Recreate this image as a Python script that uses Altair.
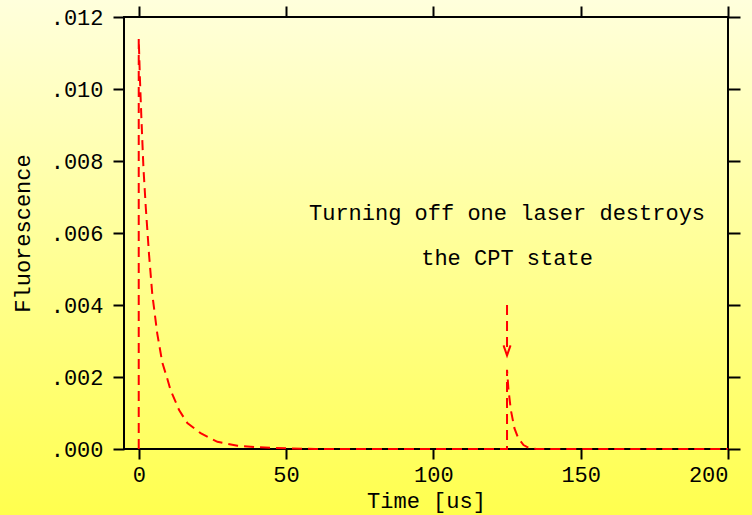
import altair as alt
import pandas as pd

# Fluorescence trace: pulse at t=0 with slow decay, second short pulse at t=125
t_vals = [0, 0, 0.4, 0.9, 1.6, 2.4, 3.5, 4.6, 6.3, 8.0, 9.7, 10.8, 13.7, 16.5,
          21.0, 26.7, 33.5, 40.0, 50.0, 60.0,
          125.0, 125.0, 125.5, 126.3, 127.5, 128.8, 130.6, 132.2, 135.0, 200.0]
f_vals = [0.0, 0.0114, 0.0103, 0.0092, 0.0078, 0.0067, 0.0054, 0.0043, 0.0032,
          0.0024, 0.00195, 0.00164, 0.00108, 0.00072, 0.00044, 0.0002, 0.00009,
          0.00005, 0.00002, 0.0,
          0.0, 0.0022, 0.00164, 0.00108, 0.00058, 0.0003, 0.00011, 0.00004, 0.0, 0.0]

x_ticks = [0, 50, 100, 150, 200]
y_ticks = [0.0, 0.002, 0.004, 0.006, 0.008, 0.010, 0.012]

note_lines = ["Turning off one laser destroys", "the CPT state"]
note_x = [125, 125]
note_y = [0.00636, 0.00511]

arrow_x = 125
arrow_top = 0.0040
arrow_tip = 0.0026

FONT = "Liberation Mono"
RED = "#ff0000"

trace = pd.DataFrame({"t": t_vals, "f": f_vals, "i": range(len(t_vals))})
notes = pd.DataFrame({"x": note_x, "y": note_y, "label": note_lines})
arrow = pd.DataFrame({"x": [arrow_x], "y": [arrow_top], "y2": [arrow_tip]})

x_scale = alt.Scale(domain=[-5, 200], nice=False, zero=False)
y_scale = alt.Scale(domain=[0, 0.012], nice=False)

# axes sit above the background; the frame itself is a rect mark below the data
axis_common = dict(
    domain=False, tickColor="black", tickWidth=2, zindex=1,
    grid=False, labelFont=FONT, labelFontSize=22, labelColor="black",
    titleFont=FONT, titleFontSize=22, titleColor="black", titleFontWeight="normal",
)

bg = alt.Chart(alt.Data(values=[{}])).mark_rect(
    color=alt.Gradient(
        gradient="linear",
        stops=[alt.GradientStop(color="#ffffdc", offset=0),
               alt.GradientStop(color="#ffff4e", offset=1)],
        x1=0, x2=0, y1=0, y2=1,
    )
).encode(
    x=alt.value(-124), x2=alt.value(628), y=alt.value(-17), y2=alt.value(498)
)

box = alt.Chart(alt.Data(values=[{}])).mark_rect(
    fillOpacity=0, stroke="black", strokeWidth=2
).encode(
    x=alt.value(0), x2=alt.value(604), y=alt.value(0), y2=alt.value(432)
)

line = alt.Chart(trace).mark_line(
    color=RED, strokeWidth=2, strokeDash=[10, 6]
).encode(
    x=alt.X("t:Q", scale=x_scale, axis=alt.Axis(
        orient="bottom", values=x_ticks, title="Time [us]", tickSize=10,
        labelPadding=5, titleY=58, titleBaseline="alphabetic", **axis_common)),
    y=alt.Y("f:Q", scale=y_scale, axis=alt.Axis(
        orient="left", values=y_ticks, title="Fluorescence", tickSize=11,
        labelPadding=10, labelExpr="substring(format(datum.value, '.3f'), 1)",
        titleX=-102, titleY=216, titleAngle=270, titleAlign="center",
        titleBaseline="middle", **axis_common)),
    order="i:Q",
)

frame = alt.Chart(trace).mark_line(opacity=0).encode(
    x=alt.X("t:Q", scale=x_scale, axis=alt.Axis(
        orient="top", values=x_ticks, title=None, labels=False, tickSize=11,
        **axis_common)),
    y=alt.Y("f:Q", scale=y_scale, axis=alt.Axis(
        orient="right", values=y_ticks, title=None, labels=False, tickSize=12,
        **axis_common)),
)

shaft = alt.Chart(arrow).mark_rule(
    color=RED, strokeWidth=2, strokeDash=[10, 6]
).encode(
    x=alt.X("x:Q", scale=x_scale, axis=None),
    y=alt.Y("y:Q", scale=y_scale, axis=None),
    y2="y2:Q",
)

head = alt.Chart(arrow).mark_point(
    shape="M-0.7,-1L0,1L0.7,-1", size=100, filled=False, color=RED,
    strokeWidth=2, opacity=1, yOffset=-5,
).encode(
    x=alt.X("x:Q", scale=x_scale, axis=None),
    y=alt.Y("y2:Q", scale=y_scale, axis=None),
)

text = alt.Chart(notes).mark_text(
    font=FONT, fontSize=22, color="black", align="center", baseline="alphabetic"
).encode(
    x=alt.X("x:Q", scale=x_scale, axis=None),
    y=alt.Y("y:Q", scale=y_scale, axis=None),
    text="label:N",
)

chart = alt.layer(bg, box, line, frame, shaft, head, text).resolve_axis(
    x="independent", y="independent"
).properties(
    width=604, height=432,
    autosize=alt.AutoSizeParams(type="none"),
    padding={"left": 124, "top": 17, "right": 24, "bottom": 66},
    background="#ffff4e",
).configure_view(strokeOpacity=0)

chart.save("out.html", embed_options={"renderer": "svg", "actions": False})
